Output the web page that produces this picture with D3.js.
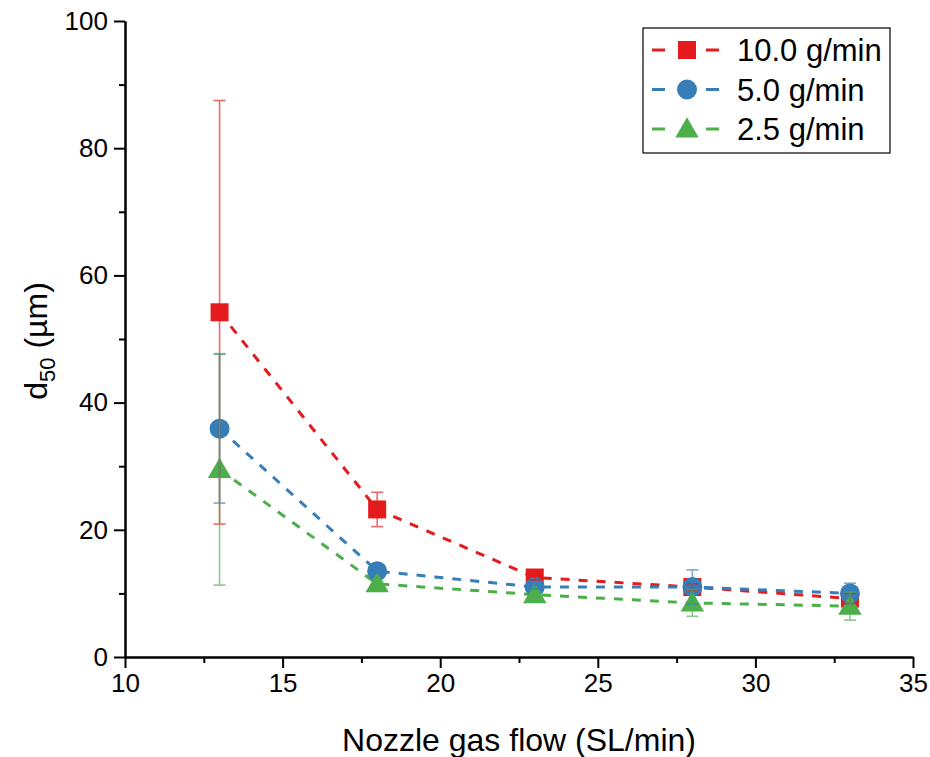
<!DOCTYPE html>
<html>
<head>
<meta charset="utf-8">
<script src="https://cdn.jsdelivr.net/npm/d3@7"></script>
<style>
  body { margin: 0; background: #fff; }
  svg text { font-family: "Liberation Sans", Arial, sans-serif; }
</style>
</head>
<body>
<div id="chart"></div>
<script>
// gas flow values (SL/min)
const flows = [13, 18, 23, 28, 33];
const seriesNames = ["10.0 g/min", "5.0 g/min", "2.5 g/min"];
const seriesColors = ["#e41a1c", "#377eb8", "#4daf4a"];
const seriesShapes = ["square", "circle", "triangle"];

// d50 values (um)
const d50High = [54.2, 23.2, 12.5, 11.0, 9.2];
const d50Mid = [35.9, 13.5, 11.0, 11.0, 10.0];
const d50Low = [29.5, 11.5, 9.8, 8.5, 8.0];

// error (+/-)
const errHigh = [33.3, 2.7, 0.4, 0.5, 0.8];
const errMid = [11.7, 0.3, 0.3, 2.7, 1.6];
const errLow = [18.2, 0.5, 0.4, 2.1, 2.2];

const xTicks = [10, 15, 20, 25, 30, 35];
const yTicks = [0, 20, 40, 60, 80, 100];

const allValues = [d50High, d50Mid, d50Low];
const allErrors = [errHigh, errMid, errLow];

const W = 930, H = 757;
const margin = {left: 125, right: 17, top: 21, bottom: 100};

const svg = d3.select("#chart").append("svg")
    .attr("width", W)
    .attr("height", H)
    .style("display", "block");

const x = d3.scaleLinear().domain([10, 35]).range([margin.left, W - margin.right]);
const y = d3.scaleLinear().domain([0, 100]).range([H - margin.bottom, margin.top]);

// axes
const xAxis = d3.axisBottom(x).tickValues(xTicks).tickSize(11).tickSizeOuter(0).tickPadding(6);
const xMinor = d3.axisBottom(x).tickValues([12.5, 17.5, 22.5, 27.5, 32.5]).tickSize(6).tickFormat("").tickSizeOuter(0);
const yAxis = d3.axisLeft(y).tickValues(yTicks).tickSize(11).tickSizeOuter(0).tickPadding(6);
const yMinor = d3.axisLeft(y).tickValues([10, 30, 50, 70, 90]).tickSize(6).tickFormat("").tickSizeOuter(0);

function styleAxis(g) {
    g.attr("font-family", null).attr("font-size", null);
    g.selectAll("path, line").attr("stroke", "#000").attr("stroke-width", 2);
    g.selectAll("text").attr("fill", "#000").style("font-size", "26px");
}

svg.append("g").attr("transform", "translate(0," + y(0) + ")").call(xMinor).call(styleAxis);
svg.append("g").attr("transform", "translate(0," + y(0) + ")").call(xAxis).call(styleAxis);
svg.append("g").attr("transform", "translate(" + x(10) + ",0)").call(yMinor).call(styleAxis);
svg.append("g").attr("transform", "translate(" + x(10) + ",0)").call(yAxis).call(styleAxis);

// axis titles
svg.append("text")
    .attr("x", (x(10) + x(35)) / 2)
    .attr("y", 751)
    .attr("text-anchor", "middle")
    .style("font-size", "32px")
    .text("Nozzle gas flow (SL/min)");

const yt = svg.append("text")
    .attr("transform", "translate(47," + 341 + ") rotate(-90)")
    .attr("text-anchor", "middle")
    .style("font-size", "32px");
yt.append("tspan").text("d");
yt.append("tspan").attr("dy", 8).style("font-size", "22px").text("50");
yt.append("tspan").attr("dy", -8).text(" (\u00b5m)");

function drawMarker(g, shape, color, cx, cy, s) {
    if (shape === "square") {
        g.append("rect").attr("x", cx - s / 2).attr("y", cy - s / 2)
            .attr("width", s).attr("height", s).attr("fill", color);
    } else if (shape === "circle") {
        g.append("circle").attr("cx", cx).attr("cy", cy).attr("r", s / 2 + 1).attr("fill", color);
    } else {
        const h = s * 1.05;
        const w = s * 1.3;
        g.append("path")
            .attr("d", "M" + cx + "," + (cy - h * 0.62) + "L" + (cx + w / 2) + "," + (cy + h * 0.45) +
                "L" + (cx - w / 2) + "," + (cy + h * 0.45) + "Z")
            .attr("fill", color);
    }
}

const line = d3.line().x((d, i) => x(flows[i])).y(d => y(d));

const plot = svg.append("g");

// dashed lines
allValues.forEach((vals, k) => {
    plot.append("path")
        .datum(vals)
        .attr("d", line)
        .attr("fill", "none")
        .attr("stroke", seriesColors[k])
        .attr("stroke-width", 3)
        .attr("stroke-dasharray", "9,9");
});

// markers + error bars
allValues.forEach((vals, k) => {
    const g = plot.append("g");
    vals.forEach((v, i) => {
        drawMarker(g, seriesShapes[k], seriesColors[k], x(flows[i]), y(v), 18);
    });
});
allValues.forEach((vals, k) => {
    const g = plot.append("g").attr("stroke", seriesColors[k]).attr("stroke-width", 1.6).attr("opacity", 0.65);
    vals.forEach((v, i) => {
        const cx = x(flows[i]);
        const e = allErrors[k][i];
        g.append("line").attr("x1", cx).attr("x2", cx).attr("y1", y(v + e)).attr("y2", y(v - e));
        g.append("line").attr("x1", cx - 6).attr("x2", cx + 6).attr("y1", y(v + e)).attr("y2", y(v + e));
        g.append("line").attr("x1", cx - 6).attr("x2", cx + 6).attr("y1", y(v - e)).attr("y2", y(v - e));
    });
});

// legend
const leg = svg.append("g");
leg.append("rect")
    .attr("x", 643).attr("y", 28).attr("width", 247).attr("height", 125)
    .attr("fill", "#fff").attr("stroke", "#000").attr("stroke-width", 1.2);
seriesNames.forEach((name, k) => {
    const cy = 50 + k * 39.5;
    leg.append("line").attr("x1", 652).attr("x2", 665).attr("y1", cy).attr("y2", cy)
        .attr("stroke", seriesColors[k]).attr("stroke-width", 3);
    leg.append("line").attr("x1", 706).attr("x2", 719).attr("y1", cy).attr("y2", cy)
        .attr("stroke", seriesColors[k]).attr("stroke-width", 3);
    drawMarker(leg, seriesShapes[k], seriesColors[k], 687, cy, 18);
    leg.append("text").attr("x", 737).attr("y", cy + 11)
        .style("font-size", "31px").text(name);
});
</script>
</body>
</html>
